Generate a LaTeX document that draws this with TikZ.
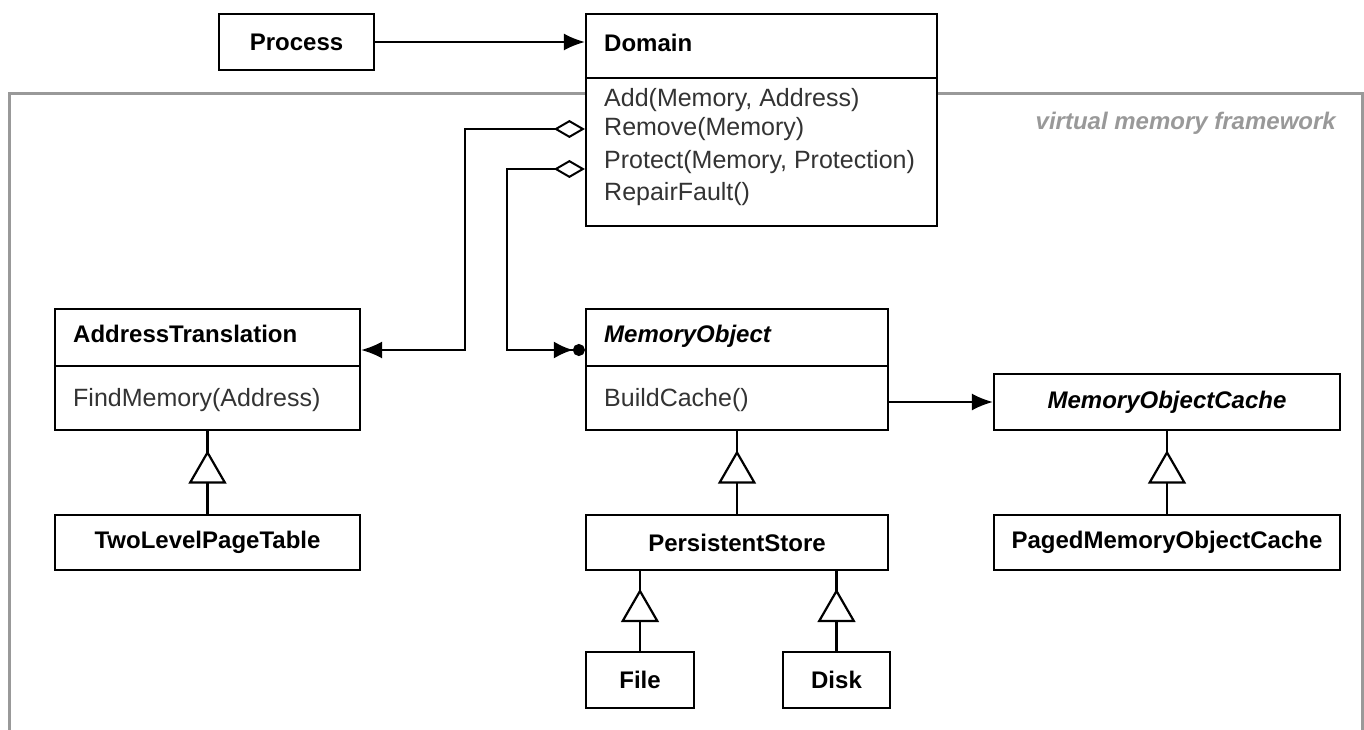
\documentclass[tikz,border=0pt]{standalone}
\usepackage{fontspec}
\setmainfont{Liberation Sans}
\usetikzlibrary{arrows.meta,shapes.geometric}

\tikzset{
  cls/.style={draw, line width=2.2pt, fill=white, inner sep=0pt},
  box/.style={cls, font=\fontsize{24}{28}\selectfont\bfseries},
  abox/.style={cls, font=\fontsize{24}{28}\selectfont\bfseries\itshape},
  head/.style={font=\fontsize{24}{28}\selectfont\bfseries, inner sep=0pt, text height=18pt, text depth=5pt},
  ahead/.style={head, font=\fontsize{24}{28}\selectfont\bfseries\itshape},
  meth/.style={font=\fontsize{25}{29}\selectfont, text=black!80, inner sep=0pt, text height=18pt, text depth=5pt},
  sep/.style={line width=2.2pt},
  gen/.style={draw, fill=white, line width=2.2pt, regular polygon, regular polygon sides=3,
    minimum size=40pt, inner sep=0pt},
  inh/.style={line width=2.2pt},
  nav/.style={line width=2.2pt, -{Latex[length=21pt,width=17pt]}},
  agg/.style={line width=2.2pt, {Diamond[open,length=31pt,width=18pt,line width=2pt]}-{Latex[length=21pt,width=17pt]}},
  aggdot/.style={line width=2.2pt, {Diamond[open,length=31pt,width=18pt,line width=2pt]}-{Latex[length=19pt,width=17pt] Circle[length=12pt]}},
  frame/.style={draw=black!40, line width=3pt},
}

\begin{document}
\begin{tikzpicture}[x=1pt,y=-1pt]
\useasboundingbox (0,0) rectangle (1364,730);

% framework boundary
\draw[frame] (9,730) |- (1362,94) -- (1362,730);
\node[font=\fontsize{24}{28}\selectfont\bfseries\itshape, text=black!40, anchor=east, inner sep=0pt] (fwl) at (1336,123) {virtual memory framework};

% classes
\node[box, minimum width=155pt, minimum height=56pt] (proc) at (296.5,42) {Process};

\node[cls, minimum width=351pt, minimum height=212pt] (dom) at (761.5,120) {};
\draw[sep] (dom.west |- 0,78) -- (dom.east |- 0,78);
\node[head, anchor=west] (domh) at (604,45) {Domain};
\node[meth, anchor=west] (domadd) at (604,100) {Add(Memory, Address)};
\node[meth, anchor=west] (domrem) at (604,129) {Remove(Memory)};
\node[meth, anchor=west] (domprot) at (604,162) {Protect(Memory, Protection)};
\node[meth, anchor=west] (domfix) at (604,194) {RepairFault()};

\node[cls, minimum width=305pt, minimum height=121pt] (addr) at (207.5,369.5) {};
\draw[sep] (addr.west |- 0,366) -- (addr.east |- 0,366);
\node[head, anchor=west] (addrh) at (73,336) {AddressTranslation};
\node[meth, anchor=west] (addrfind) at (73,400) {FindMemory(Address)};

\node[box, minimum width=305pt, minimum height=55pt] (tlpt) at (207.5,542.5) {TwoLevelPageTable};

\node[cls, minimum width=302pt, minimum height=121pt] (mobj) at (737,369.5) {};
\draw[sep] (mobj.west |- 0,366) -- (mobj.east |- 0,366);
\node[ahead, anchor=west] (mobjh) at (604,336) {MemoryObject};
\node[meth, anchor=west] (mobjbuild) at (604,400) {BuildCache()};

\node[abox, minimum width=346pt, minimum height=56pt] (moc) at (1167,402) {MemoryObjectCache};
\node[box, minimum width=346pt, minimum height=55pt] (pmoc) at (1167,542.5) {PagedMemoryObjectCache};

\node[box, minimum width=302pt, minimum height=55pt] (pstore) at (737,542.5) {PersistentStore};
\node[box, minimum width=108pt, minimum height=56pt] (file) at (640,680) {File};
\node[box, minimum width=107pt, minimum height=56pt] (disk) at (836.5,680) {Disk};

% associations
\draw[nav] (proc.east) -- (proc.east -| dom.west);
\draw[agg] (domrem -| dom.west) -| (465,350) -- (addr.east |- 0,350);
\draw[aggdot] (dom.west |- 0,169) -| (507,350) -- (mobj.west |- 0,350);
\draw[nav] (mobj.east |- moc) -- (moc.west);

% generalizations
\draw[inh] (tlpt.north) -- node[gen] {} (addr.south);
\draw[inh] (pstore.north) -- node[gen] {} (mobj.south);
\draw[inh] (pmoc.north) -- node[gen] {} (moc.south);
\draw[inh] (file.north) -- node[gen] {} (file.north |- pstore.south);
\draw[inh] (disk.north) -- node[gen] {} (disk.north |- pstore.south);
\end{tikzpicture}
\end{document}
